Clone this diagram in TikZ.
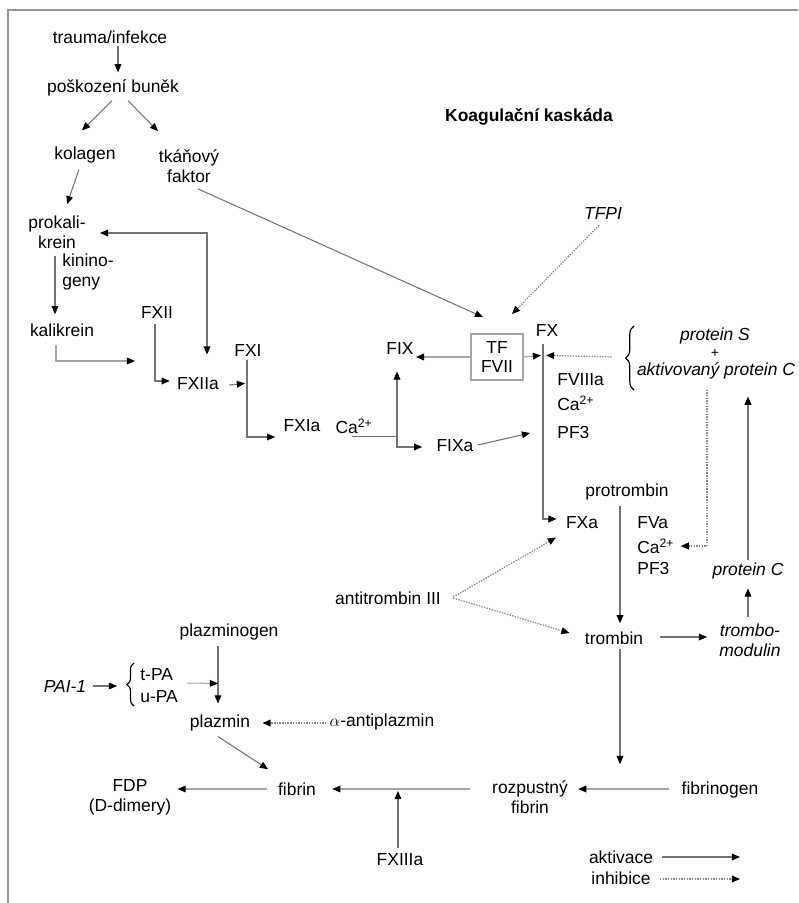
\documentclass[tikz,border=0pt]{standalone}
\usepackage{fontspec}
\setmainfont{Liberation Sans}
\usetikzlibrary{arrows.meta, decorations.pathreplacing}
\definecolor{linegray}{RGB}{115, 115, 115}
\definecolor{palegray}{RGB}{165, 165, 165}
\definecolor{framegray}{RGB}{150, 150, 150}
\tikzset{
    ctip/.tip={Triangle[length=5.8pt, width=4.8pt, color=black, fill=black]},
    term/.style={inner sep=1.5pt, align=center, font=\fontsize{12.4}{14.2}\selectfont},
    iterm/.style={term, font=\fontsize{12.4}{14.2}\selectfont\itshape},
    headline/.style={term, font=\fontsize{12.4}{14.2}\selectfont\bfseries},
    tfbox/.style={term, draw=palegray, line width=1.3pt, minimum width=1.3cm, minimum height=1.15cm},
    arrow/.style={-ctip, line width=0.75pt, color=linegray},
    palearrow/.style={arrow, color=palegray},
    inharrow/.style={arrow, dash pattern=on 1pt off 0.9pt, line width=0.9pt, color=linegray!85},
    brace/.style={decorate, decoration={brace, amplitude=5pt}, line width=0.8pt},
}
\begin{document}
\begin{tikzpicture}[x=0.025cm, y=-0.025cm]
    \useasboundingbox (0,0) rectangle (798,903);
    \draw[framegray, line width=1.5pt] (8,903) -- (8,10) -- (798,10);

    \node[headline] (head) at (529,117) {Koagulační kaskáda};

    \node[term] (trauma) at (110,37) {trauma/infekce};
    \node[term] (poskoz) at (113,88) {poškození buněk};
    \node[term] (kolagen) at (85,155) {kolagen};
    \node[term] (tkan) at (189,166) {tkáňový\\faktor};
    \node[term] (prokali) at (57,232) {prokali-\\krein};
    \node[term, align=left] (kinin) at (88,272) {kinino-\\geny};
    \node[term] (kalik) at (62,330) {kalikrein};
    \node[term] (fxii) at (157,312) {FXII};
    \node[term] (fxiia) at (198,384) {FXIIa};
    \node[term] (fxi) at (248,350) {FXI};
    \node[term] (fxia) at (302,426) {FXIa};
    \node[term] (ca1) at (354,426) {Ca\textsuperscript{2+}};
    \node[term] (fix) at (400,348) {FIX};
    \node[term] (fixa) at (455,446) {FIXa};
    \node[tfbox] (tf) at (497,357) {TF\\FVII};
    \node[term] (fx) at (547,330) {FX};
    \node[term, anchor=west] (fviiia) at (555,380) {FVIIIa};
    \node[term, anchor=west] (ca2) at (555,403) {Ca\textsuperscript{2+}};
    \node[term, anchor=west] (pf3a) at (555,432) {PF3};
    \node[iterm] (tfpi) at (603,213) {TFPI};
    \node[iterm] (prots) at (715,336) {protein S};
    \node[iterm, inner sep=0pt, font=\fontsize{10}{10}\selectfont] (plus) at (715,353) {+};
    \node[iterm] (apc) at (716,371) {aktivovaný protein C};
    \node[term] (protrombin) at (627,492) {protrombin};
    \node[term] (fxa) at (582,523) {FXa};
    \node[term, anchor=west] (fva) at (635,523) {FVa};
    \node[term, anchor=west] (ca3) at (635,546) {Ca\textsuperscript{2+}};
    \node[term, anchor=west] (pf3b) at (635,568) {PF3};
    \node[iterm] (protc) at (748,571) {protein C};
    \node[iterm] (tmod) at (750,640) {trombo-\\modulin};
    \node[term] (trombin) at (614,638) {trombin};
    \node[term] (at3) at (388,598) {antitrombin III};
    \node[term] (plgen) at (229,632) {plazminogen};
    \node[iterm] (pai) at (65,686) {PAI-1};
    \node[term, anchor=west] (tpa) at (138,675) {t-PA};
    \node[term, anchor=west] (upa) at (138,697) {u-PA};
    \node[term] (plazmin) at (220,723) {plazmin};
    \node[term] (apl) at (382,722) {$\alpha$-antiplazmin};
    \node[term] (fdp) at (130,797) {FDP\\(D-dimery)};
    \node[term] (fibrin) at (297,789) {fibrin};
    \node[term] (rozp) at (530,797) {rozpustný\\fibrin};
    \node[term] (fbg) at (720,790) {fibrinogen};
    \node[term] (fxiiia) at (400,860) {FXIIIa};
    \node[term] (akt) at (621,857) {aktivace};
    \node[term] (inh) at (621,878) {inhibice};

    \coordinate (kaltip) at (135,361);
    \coordinate (cajoint) at (397,437);
    \coordinate (fxiiitip) at (398,791);
    \coordinate (aktend) at (740,857);
    \coordinate (inhend) at (740,879);

    \draw[brace, decoration={amplitude=6pt}] (634,390) -- (634,326);
    \draw[brace] (134,706) -- (134,663);

    \draw[arrow] ([shift={(8,0)}]trauma.south) -- ([shift={(5,-5)}]poskoz.north);
    \draw[arrow] ([shift={(-1,2)}]poskoz.south) -- ([shift={(-3,-14)}]kolagen.north);
    \draw[arrow] ([shift={(15,2)}]poskoz.south) -- ([shift={(-31,-16)}]tkan.north);
    \draw[arrow] ([shift={(-6,4)}]kolagen.south) -- ([shift={(10,-9)}]prokali.north);
    \draw[arrow] ([shift={(9,4)}]tkan.south) -- ([shift={(-14,-16)}]tf.north);
    \draw[inharrow] ([shift={(-4,4)}]tfpi.south) -- ([shift={(15,-19)}]tf.north);
    \draw[arrow, ctip-ctip] ([shift={(12,1)}]prokali.east) -| ([shift={(9,-21)}]fxiia.north);
    \draw[arrow] ([shift={(-2,5)}]prokali.south) -- ([shift={(-7,-7)}]kalik.north);
    \draw[palearrow] ([shift={(-6,6)}]kalik.south) |- (kaltip);
    \draw[arrow] ([shift={(-2,4)}]fxii.south) |- ([shift={(-5,-3)}]fxiia.west);
    \draw[arrow] ([shift={(8,1)}]fxiia.east) -- ([shift={(-3,25)}]fxi.south);
    \draw[arrow] ([shift={(-1,2)}]fxi.south) |- ([shift={(-6,11)}]fxia.west);
    \draw[arrow] ([shift={(-2,1)}]ca1.south) -| ([shift={(-3,15)}]fix.south);
    \draw[arrow] (cajoint) |- ([shift={(-12,1)}]fixa.west);
    \draw[palearrow] (tf.west) -- (tf.west -| fix.east);
    \draw[arrow] ([shift={(-4,6)}]fx.south) |- ([shift={(-7,-4)}]fxa.west);
    \draw[palearrow] (tf.east) -- ([shift={(-6,17)}]fx.south);
    \draw[inharrow] ([shift={(-23,-14)}]apc.west) -- ([shift={(-1,17)}]fx.south);
    \draw[arrow] ([shift={(2,-1)}]fixa.east) -- ([shift={(-25,1)}]pf3a.west);
    \draw[inharrow] ([shift={(-9,8)}]apc.south) |- ([shift={(4,0)}]ca3.east);
    \draw[arrow] (protc.north) -- ([shift={(32,15)}]apc.south);
    \draw[arrow] ([shift={(-2,-4)}]tmod.north) -- ([shift={(0,7)}]protc.south);
    \draw[arrow] ([shift={(15,-1)}]trombin.east) -- ([shift={(-10,-3)}]tmod.west);
    \draw[arrow] ([shift={(-7,3)}]protrombin.south) -- ([shift={(6,-6)}]trombin.north);
    \draw[arrow] ([shift={(6,2)}]trombin.south) -- ([shift={(90,-14)}]rozp.north);
    \draw[inharrow] ([shift={(10,-1)}]at3.east) -- ([shift={(-26,6)}]fxa.south);
    \draw[inharrow] ([shift={(10,0)}]at3.east) -- ([shift={(-13,-5)}]trombin.west);
    \draw[palearrow] ([shift={(-10,-1)}]fbg.west) -- ([shift={(8,-8)}]rozp.east);
    \draw[palearrow] ([shift={(-20,-8)}]rozp.west) -- ([shift={(14,0)}]fibrin.east);
    \draw[arrow] ([shift={(-2,-4)}]fxiiia.north) -- (fxiiitip);
    \draw[palearrow] ([shift={(-9,0)}]fibrin.west) -- ([shift={(4,-8)}]fdp.east);
    \draw[arrow] ([shift={(-2,3)}]plazmin.south) -- ([shift={(-29,-11)}]fibrin.north);
    \draw[inharrow] ([shift={(-1,1)}]apl.west) -- ([shift={(10,0)}]plazmin.east);
    \draw[arrow] ([shift={(-11,3)}]plgen.south) -- ([shift={(-2,-9)}]plazmin.north);
    \draw[palearrow] ([shift={(12,8)}]tpa.east) -- ([shift={(-2,-29)}]plazmin.north);
    \draw[arrow] ([shift={(4,0)}]pai.east) -- ([shift={(-21,11)}]tpa.west);
    \draw[arrow] ([shift={(7,0)}]akt.east) -- (aktend);
    \draw[inharrow] ([shift={(7,1)}]inh.east) -- (inhend);
\end{tikzpicture}
\end{document}
